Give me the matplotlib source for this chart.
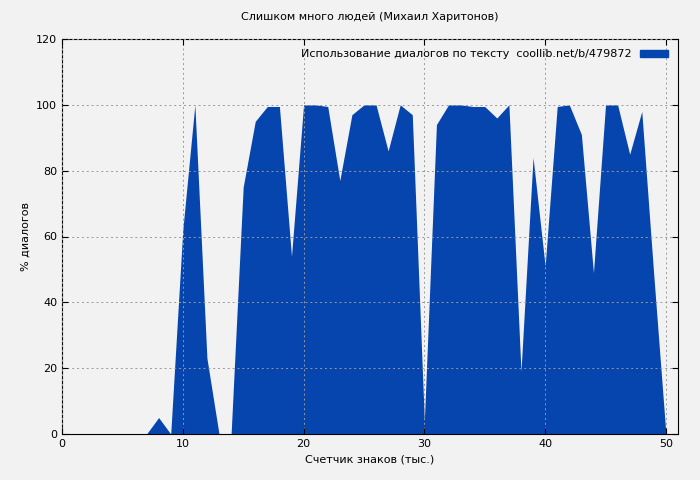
import matplotlib
matplotlib.use('Agg')
import matplotlib.pyplot as plt
from matplotlib.patches import Patch

# thousands of characters vs % dialogue
x = list(range(0, 51))
pct = [0, 0, 0, 0, 0, 0, 0, 0, 5, 0,
       62, 100, 23, 0, 0, 75, 95, 99.5, 99.5, 54,
       100, 100, 99.5, 77, 97, 100, 100, 86, 100, 97,
       4, 94, 100, 100, 99.5, 99.5, 96, 100, 19, 84,
       51, 99.5, 100, 91, 49, 100, 100, 85, 98, 48,
       0]

fill = '#0645ad'
fig = plt.figure(figsize=(7, 4.8), dpi=100, facecolor='#f2f2f2')
ax = fig.add_axes([62/700, 46/480, 616/700, 395/480])
ax.set_facecolor('#f2f2f2')
ax.fill_between(x, pct, 0, color=fill, linewidth=0)
ax.set_xlim(0, 51)
ax.set_ylim(0, 120)
ax.set_xticks(range(0, 51, 10))
ax.set_yticks(range(0, 121, 20))
ax.grid(True, color='#999999', linestyle=(0, (2, 3)), linewidth=0.7)
ax.set_axisbelow(False)
ax.tick_params(labelsize=8, direction='in', length=4, top=True, right=True)
ax.set_title('Слишком много людей (Михаил Харитонов)', fontsize=8, pad=14)
ax.set_xlabel('Счетчик знаков (тыс.)', fontsize=8)
ax.set_ylabel('% диалогов', fontsize=8)
ax.legend(handles=[Patch(color=fill)],
          labels=['Использование диалогов по тексту  coollib.net/b/479872'],
          loc='upper right', fontsize=8, frameon=False, markerfirst=False,
          handlelength=2.5, handleheight=0.6)
fig.savefig('out.png', dpi=100, facecolor=fig.get_facecolor())
